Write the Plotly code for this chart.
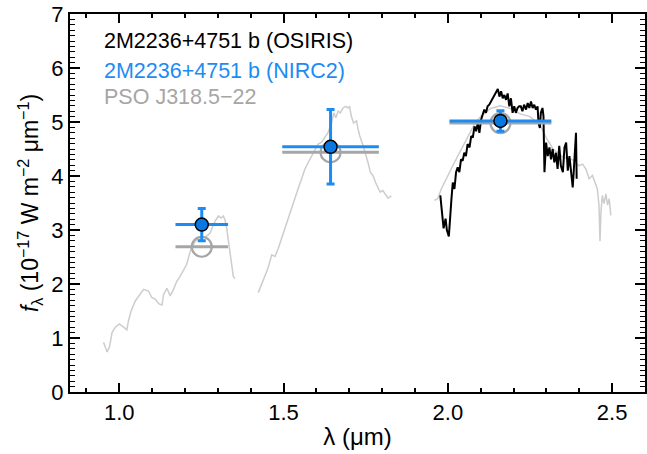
import plotly.graph_objects as go

# PSO J318.5-22 spectrum (gray), three band segments
pso_j_wl = [0.952, 0.963, 0.970, 0.978, 0.988, 1.000, 1.013, 1.023, 1.028, 1.036, 1.049, 1.059,
            1.074, 1.089, 1.099, 1.109, 1.121, 1.130, 1.135, 1.145, 1.155, 1.165, 1.175, 1.185,
            1.195, 1.205, 1.213, 1.219, 1.230, 1.240, 1.250, 1.260, 1.270, 1.276, 1.286, 1.293,
            1.302, 1.310, 1.317, 1.322, 1.327, 1.332, 1.337, 1.342, 1.347, 1.352]
pso_j_fl = [0.92, 0.74, 0.83, 1.10, 1.20, 1.26, 1.20, 1.15, 1.32, 1.50, 1.69, 1.78,
            1.90, 1.87, 1.75, 1.72, 1.63, 1.61, 1.81, 1.92, 1.78, 1.90, 2.05, 2.14,
            2.24, 2.36, 2.54, 2.66, 2.78, 2.84, 2.88, 2.86, 2.91, 2.94, 3.09, 3.18,
            3.26, 3.22, 3.26, 3.18, 3.03, 2.79, 2.54, 2.30, 2.14, 2.10]

pso_h_wl = [1.423, 1.433, 1.443, 1.453, 1.464, 1.474, 1.484, 1.494, 1.504, 1.514, 1.524, 1.534,
            1.544, 1.555, 1.565, 1.575, 1.585, 1.595, 1.605, 1.615, 1.625, 1.635, 1.646, 1.653,
            1.659, 1.666, 1.673, 1.681, 1.689, 1.696, 1.701, 1.706, 1.713, 1.722, 1.727, 1.732,
            1.742, 1.750, 1.757, 1.764, 1.772, 1.780, 1.787, 1.794, 1.802, 1.811, 1.818, 1.828]
pso_h_fl = [1.84, 1.99, 2.17, 2.30, 2.54, 2.51, 2.66, 2.85, 3.03, 3.21, 3.40, 3.58,
            3.76, 3.95, 4.13, 4.25, 4.37, 4.47, 4.59, 4.62, 4.70, 4.80, 4.98, 5.17,
            5.08, 5.20, 5.17, 5.26, 5.29, 5.26, 5.29, 5.11, 4.98, 5.02, 4.86, 4.74,
            4.56, 4.40, 4.25, 4.07, 4.01, 3.88, 3.79, 3.70, 3.73, 3.64, 3.59, 3.63]

pso_k_wl = [1.959, 1.969, 1.980, 1.995, 2.020, 2.050, 2.080, 2.100, 2.130, 2.160, 2.190, 2.220,
            2.250, 2.280, 2.300, 2.320, 2.350, 2.380, 2.389, 2.399, 2.410, 2.420, 2.430, 2.440,
            2.448, 2.455, 2.460, 2.463, 2.466, 2.470, 2.475, 2.481, 2.486, 2.491, 2.496]
pso_k_fl = [3.55, 3.58, 3.76, 3.95, 4.25, 4.60, 4.95, 5.10, 5.25, 5.30, 5.25, 5.15,
            5.10, 4.95, 4.70, 4.50, 4.35, 4.30, 4.25, 4.19, 4.22, 4.13, 3.95, 4.01,
            3.88, 3.76, 3.46, 2.79, 3.34, 3.64, 3.49, 3.67, 3.46, 3.58, 3.27]

# 2M2236+4751 b OSIRIS spectrum (black)
osiris_wl = [1.977, 1.983, 1.987, 1.993, 1.997, 2.003, 2.007, 2.011, 2.015, 2.020, 2.025, 2.030,
             2.035, 2.040, 2.045, 2.050, 2.055, 2.060, 2.066, 2.071, 2.076, 2.081, 2.086, 2.091,
             2.096, 2.101, 2.106, 2.111, 2.116, 2.121, 2.126, 2.131, 2.136, 2.141, 2.147, 2.152,
             2.157, 2.162, 2.167, 2.172, 2.177, 2.182, 2.187, 2.192, 2.197, 2.202, 2.207, 2.212,
             2.217, 2.222, 2.227, 2.232, 2.238, 2.243, 2.248, 2.253, 2.258, 2.263, 2.268, 2.273,
             2.276, 2.280, 2.283, 2.288, 2.291, 2.294, 2.299, 2.304, 2.309, 2.314, 2.319, 2.324,
             2.329, 2.334, 2.339, 2.344, 2.350, 2.355, 2.360, 2.365, 2.370, 2.375, 2.380, 2.383,
             2.386, 2.390, 2.392]
osiris_fl = [3.64, 3.27, 3.03, 3.21, 3.00, 2.88, 3.34, 3.58, 3.88, 3.76, 4.07, 4.16,
             4.07, 4.31, 4.28, 4.43, 4.37, 4.59, 4.53, 4.74, 4.71, 4.92, 4.83, 4.98,
             4.80, 5.04, 5.14, 5.23, 5.17, 5.29, 5.32, 5.38, 5.41, 5.47, 5.57, 5.61,
             5.47, 5.57, 5.44, 5.50, 5.41, 5.53, 5.29, 5.44, 5.17, 5.29, 5.17, 5.26,
             5.29, 5.29, 5.20, 5.32, 5.23, 5.35, 5.26, 5.38, 5.26, 5.32, 5.23, 5.29,
             4.98, 4.89, 5.17, 5.26, 5.11, 4.07, 4.62, 4.37, 4.53, 4.31, 4.50, 4.25,
             4.43, 4.13, 4.56, 4.19, 4.07, 4.53, 4.62, 4.10, 4.37, 4.07, 3.79, 4.07,
             4.37, 4.80, 3.95]

# Photometry: J, H, K
phot_wl = [1.251, 1.643, 2.160]
phot_halfwidth = [0.080, 0.147, 0.155]
nirc2_fl = [3.10, 4.54, 5.02]
nirc2_err = [0.30, 0.69, 0.19]
pso_phot_fl = [2.69, 4.44, 4.98]

legend_labels = ["2M2236+4751 b (OSIRIS)", "2M2236+4751 b (NIRC2)", "PSO J318.5\u221222"]

X_RANGE = [0.85, 2.6]
Y_RANGE = [0, 7]

BLUE = "#1c8cf2"
FILL = "#0a78e0"
LGRAY = "#cdcdcd"
MGRAY = "#a6a6a6"
FONT = "Liberation Sans, Arial, Helvetica, sans-serif"

fig = go.Figure()
for wl, fl in [(pso_j_wl, pso_j_fl), (pso_h_wl, pso_h_fl), (pso_k_wl, pso_k_fl)]:
    fig.add_trace(go.Scatter(x=wl, y=fl, mode="lines", line=dict(color=LGRAY, width=1.5),
                             showlegend=False, hoverinfo="skip"))

fig.add_trace(go.Scatter(x=osiris_wl, y=osiris_fl, mode="lines",
                         line=dict(color="black", width=2), showlegend=False))

# PSO photometry: horizontal bars + open circles
fig.add_trace(go.Scatter(x=phot_wl, y=pso_phot_fl, mode="markers",
                         marker=dict(size=20, color="rgba(255,255,255,0)",
                                     line=dict(color=MGRAY, width=2.2)),
                         error_x=dict(type="data", array=phot_halfwidth, color=MGRAY,
                                      thickness=3, width=0),
                         showlegend=False))

# NIRC2 photometry
fig.add_trace(go.Scatter(x=phot_wl, y=nirc2_fl, mode="markers",
                         marker=dict(size=13, color=FILL, line=dict(color="black", width=1.5)),
                         error_x=dict(type="data", array=phot_halfwidth, color=BLUE,
                                      thickness=3, width=0),
                         error_y=dict(type="data", array=nirc2_err, color=BLUE,
                                      thickness=3, width=4),
                         showlegend=False))

# invisible trace so the top/right tick axes are drawn
fig.add_trace(go.Scatter(x=phot_wl, y=nirc2_fl, mode="markers", xaxis="x2", yaxis="y2",
                         marker=dict(size=1, opacity=0), showlegend=False, hoverinfo="skip"))

leg_colors = ["black", BLUE, MGRAY]
leg_y = [0.928, 0.850, 0.781]
for txt, c, yy in zip(legend_labels, leg_colors, leg_y):
    fig.add_annotation(text=txt, x=0.056, y=yy, xref="paper", yref="paper",
                       xanchor="left", yanchor="middle", showarrow=False,
                       font=dict(color=c, size=21.5, family=FONT))

common = dict(showline=True, linecolor="black", linewidth=2,
              ticks="inside", tickcolor="black", tickwidth=1.5,
              showgrid=False, zeroline=False, ticklabeloverflow="allow",
              tickfont=dict(size=22, color="black", family=FONT))

x_ticks = dict(tickmode="linear", tick0=0.0, dtick=0.5, ticklen=9,
               minor=dict(tickmode="linear", tick0=0.0, dtick=0.1, ticklen=4,
                          ticks="inside", tickcolor="black", tickwidth=1.5))
y_ticks = dict(tickmode="linear", tick0=0, dtick=1, ticklen=10,
               minor=dict(tickmode="linear", tick0=0, dtick=0.1, ticklen=5,
                          ticks="inside", tickcolor="black", tickwidth=1.2))

fig.update_layout(
    width=647, height=454, margin=dict(l=70, r=2, t=10, b=62),
    plot_bgcolor="white", paper_bgcolor="white",
    font=dict(family=FONT, color="black"),
    xaxis=dict(range=X_RANGE, tickformat=".1f",
               title=dict(text="\u03bb (\u03bcm)", font=dict(size=24, family=FONT, color="black"),
                          standoff=4),
               **x_ticks, **common),
    yaxis=dict(range=Y_RANGE,
               title=dict(text="<i>f</i><sub>\u03bb</sub> (10<sup>\u221217</sup> W m<sup>\u22122</sup> \u03bcm<sup>\u22121</sup>)",
                          font=dict(size=23, family=FONT, color="black"), standoff=6),
               **y_ticks, **common),
    xaxis2=dict(range=X_RANGE, overlaying="x", side="top", anchor="y2",
                showticklabels=False, **x_ticks, **common),
    yaxis2=dict(range=Y_RANGE, overlaying="y", side="right", anchor="x2",
                showticklabels=False, **y_ticks, **common),
)

fig.write_html("out.html", config={"displayModeBar": False},
               post_script="document.body.style.margin='0';document.body.style.padding='0';")
